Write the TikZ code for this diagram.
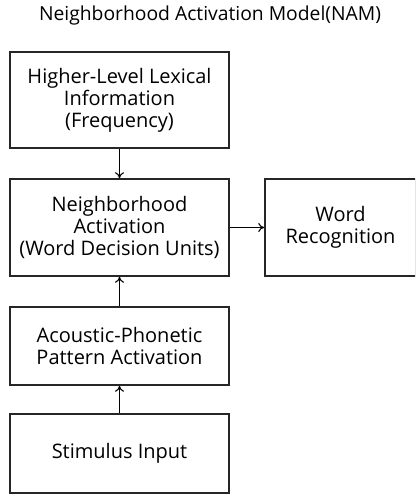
\documentclass[tikz,border=0pt]{standalone}
\usepackage{fontspec}
\setmainfont{Open Sans}
\usetikzlibrary{arrows.meta}
\begin{document}
\begin{tikzpicture}[x=1pt,y=-1pt,
  box/.style={draw=black!85,line width=1.6pt,inner sep=0pt,align=center,font=\fontsize{20}{22}\selectfont},
  conn/.style={line width=1.1pt,-{To[length=6pt,width=9pt]}}]
\useasboundingbox (0,0) rectangle (415,494);
\clip (0,0) rectangle (415,494);
\node[font=\fontsize{19.3}{22}\selectfont] (title) at (210,15) {Neighborhood Activation Model(NAM)};
\node[box,minimum width=219pt,minimum height=96pt] (hl) at (119.5,100) {Higher-Level Lexical\\Information\\(Frequency)};
\node[box,minimum width=219pt,minimum height=97pt] (na) at (119.5,227.5) {Neighborhood\\Activation\\(Word Decision Units)};
\node[box,minimum width=151pt,minimum height=97pt] (wr) at (340.5,227.5) {Word\\Recognition};
\node[box,minimum width=219pt,minimum height=78pt] (ap) at (119.5,346) {Acoustic-Phonetic\\Pattern Activation};
\node[box,minimum width=219pt,minimum height=79pt] (si) at (119.5,453.5) {Stimulus Input};
\draw[conn] (hl) -- (na);
\draw[conn] (na) -- (wr);
\draw[conn] (ap) -- (na);
\draw[conn] (si) -- (ap);
\end{tikzpicture}
\end{document}
